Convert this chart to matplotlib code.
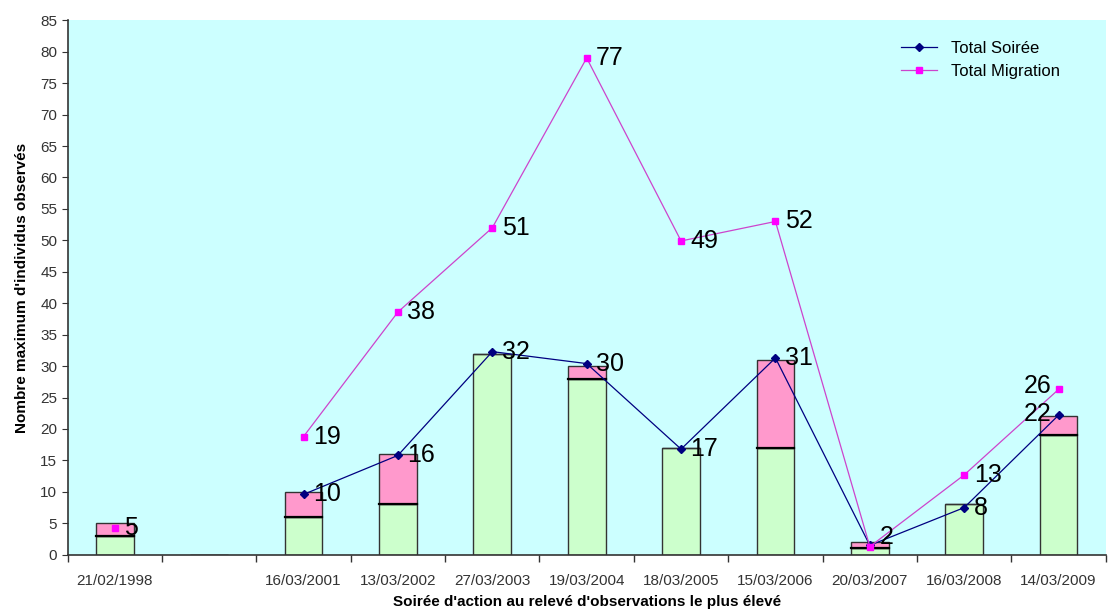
import numpy as np
import matplotlib.pyplot as plt

plt.rcParams['font.family'] = ['Liberation Sans', 'DejaVu Sans']

# Data
dates = ['21/02/1998', '', '16/03/2001', '13/03/2002', '27/03/2003', '19/03/2004',
         '18/03/2005', '15/03/2006', '20/03/2007', '16/03/2008', '14/03/2009']
green = [3, 0, 6, 8, 32, 28, 17, 17, 1, 8, 19]
pink = [2, 0, 4, 8, 0, 2, 0, 14, 1, 0, 3]
total_soiree = [np.nan, np.nan, 9.6, 15.8, 32.3, 30.4, 16.8, 31.3, 1.5, 7.5, 22.2]
total_migration = [4.3, np.nan, 18.8, 38.6, 52, 79, 49.9, 53, 1.3, 12.7, 26.3]
soiree_labels = ['', '', '10', '16', '32', '30', '17', '31', '', '8', '22']
migration_labels = ['5', '', '19', '38', '51', '77', '49', '52', '2', '13', '26']

x = np.arange(len(dates))

fig = plt.figure(figsize=(11.08, 6.13), dpi=100)
ax = fig.add_axes([0.061, 0.095, 0.937, 0.872])
ax.set_facecolor('#ccffff')

w = 0.4
ax.bar(x, green, w, color='#ccffcc', edgecolor='#333333', linewidth=1, zorder=2)
ax.bar(x, pink, w, bottom=green, color='#ff99cc', edgecolor='#333333', linewidth=1, zorder=2)
# black divider on top of green part
for xi, g, p in zip(x, green, pink):
    if p > 0:
        ax.plot([xi - w / 2, xi + w / 2], [g, g], color='black', lw=1.6, zorder=3)

ax.plot(x, total_soiree, color='#000080', lw=0.9, marker='D', ms=4,
        label='Total Soirée', zorder=4)
ax.plot(x, total_migration, color='#cc44cc', lw=0.9, marker='s', ms=5,
        mfc='#ff00ff', mec='#ff00ff', label='Total Migration', zorder=4)

for xi, y, t in zip(x, total_soiree, soiree_labels):
    if t:
        if xi == 10:
            ax.text(xi - 0.08, y + 0.2, t, fontsize=18, ha='right', va='center', zorder=5)
        else:
            ax.text(xi + 0.1, y, t, fontsize=18, ha='left', va='center', zorder=5)
for xi, y, t in zip(x, total_migration, migration_labels):
    if t:
        if xi == 10:
            ax.text(xi - 0.08, y + 0.5, t, fontsize=18, ha='right', va='center', zorder=5)
        elif xi == 8:
            ax.text(xi + 0.1, y + 1.5, t, fontsize=18, ha='left', va='center', zorder=5)
        else:
            ax.text(xi + 0.1, y, t, fontsize=18, ha='left', va='center', zorder=5)

ax.set_xlim(-0.5, 10.5)
ax.set_ylim(0, 85)
ax.set_yticks(np.arange(0, 86, 5))
ax.set_xticks(x)
ax.set_xticklabels(dates, fontsize=11, color='#333333')
ax.set_xticks(np.arange(-0.5, 10.6, 1), minor=True)
ax.tick_params(axis='x', which='major', length=0, pad=14)
ax.tick_params(axis='x', which='minor', length=5, width=1, color='#333333')
ax.tick_params(axis='y', labelsize=11, labelcolor='#333333', length=4, color='#333333')
for s in ['top', 'right']:
    ax.spines[s].set_visible(False)
for s in ['left', 'bottom']:
    ax.spines[s].set_color('#333333')
    ax.spines[s].set_linewidth(1.2)

ax.set_xlabel("Soirée d'action au relevé d'observations le plus élevé", fontsize=11,
              fontweight='bold', labelpad=5)
ax.set_ylabel("Nombre maximum d'individus observés", fontsize=11, fontweight='bold',
              labelpad=8)

ax.legend(loc='upper right', bbox_to_anchor=(0.97, 0.99), frameon=False, fontsize=12,
          handlelength=2.2, labelspacing=0.5)

fig.savefig('out.png', dpi=100)
